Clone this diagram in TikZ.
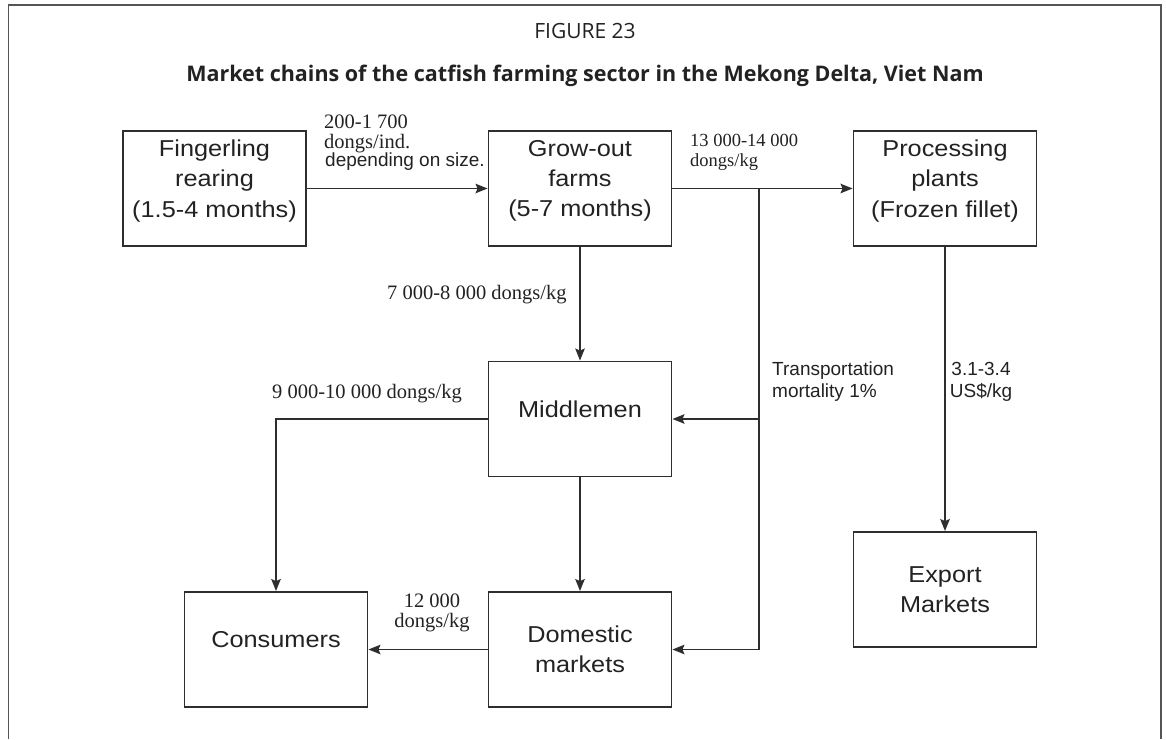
\documentclass[tikz,border=0pt]{standalone}
\usepackage{fontspec}
\setmainfont{Liberation Sans}
\newfontfamily\serifa{Liberation Serif}
\newfontfamily\titulo{Open Sans}
\newfontfamily\letracaja[FakeStretch=1.1]{Liberation Sans}
\usetikzlibrary{arrows.meta}

\definecolor{trazo}{HTML}{2E2E2E}
\definecolor{tinta}{HTML}{222222}
\definecolor{marcogris}{HTML}{555555}

\newcommand{\coordCadena}{
\coordinate (F) at (214.5,188.5);
\coordinate (G) at (580,188.5);
\coordinate (P) at (945,188.5);
\coordinate (M) at (580,419);
\coordinate (D) at (580,649.5);
\coordinate (C) at (276,649.5);
\coordinate (E) at (945,589.5);
\coordinate (T) at (759,188.5);
}
\tikzset{
caja/.style={draw=trazo,line width=1.9pt,minimum width=183pt,minimum height=115pt,inner sep=0pt},
textocaja/.style={font=\letracaja\fontsize{23}{30.3}\selectfont,text=tinta,align=center,inner sep=0pt},
flecha/.style={draw=trazo,line width=1.6pt,-{Stealth[length=12pt,width=9.5pt,inset=2pt]}},
precio/.style={font=\serifa\fontsize{20.5}{20}\selectfont,text=tinta,inner sep=0pt,align=left},
nota/.style={font=\fontsize{19}{22}\selectfont,text=tinta,inner sep=0pt,align=left},
marco/.style={draw=marcogris,line width=1.3pt}
}

\begin{document}
\begin{tikzpicture}[x=1pt,y=-1pt]
    \useasboundingbox (0,0) rectangle (1166,739);
    \draw[marco] (8.5,739) -- (8.5,5) -- (1161,5) -- (1161,739);

    \node[font=\titulo\fontsize{21}{24}\selectfont,text=tinta,anchor=base] (fig) at (585,38) {FIGURE 23};
    \node[font=\titulo\bfseries\fontsize{21.5}{24}\selectfont,text=tinta,anchor=base] (tit) at (585,81)
        {Market chains of the catfish farming sector in the Mekong Delta, Viet Nam};

    \coordCadena
    \node[caja,label={[textocaja,yshift=7.5pt]center:{Fingerling\\rearing\\(1.5-4 months)}}] (fing) at (F) {};
    \node[caja,label={[textocaja,yshift=7.5pt]center:{Grow-out\\farms\\(5-7 months)}}] (grow) at (G) {};
    \node[caja,label={[textocaja,yshift=7.5pt]center:{Processing\\plants\\(Frozen fillet)}}] (proc) at (P) {};
    \node[caja,label={[textocaja,yshift=10pt]center:Middlemen}] (midd) at (M) {};
    \node[caja,label={[textocaja]center:{Domestic\\markets}}] (dome) at (D) {};
    \node[caja,label={[textocaja,yshift=10pt]center:Consumers}] (cons) at (C) {};
    \node[caja,label={[textocaja]center:{Export\\Markets}}] (expo) at (E) {};

    \draw[flecha] (fing) -- (grow);
    \draw[flecha] (grow) -- (proc);
    \draw[flecha] (grow) -- (midd);
    \draw[flecha] (T) |- (dome.east);
    \draw[flecha] (T |- midd.east) -- (midd.east);
    \draw[flecha] (midd.west) -| (cons.north);
    \draw[flecha] (midd) -- (dome);
    \draw[flecha] (dome) -- (cons);
    \draw[flecha] (proc) -- (expo);

    % precios y notas
    \node[precio,anchor=north west] (pFG) at (324,114.5) {200-1 700\\dongs/ind.};
    \node[nota,anchor=base west] (pFGn) at (325,166.7) {depending on size.};
    \node[precio,font=\serifa\fontsize{18.5}{19.5}\selectfont,anchor=north west] (pGP) at (690,134) {13 000-14 000\\dongs/kg};
    \node[precio,anchor=base west] (pGM) at (387,299) {7 000-8 000 dongs/kg};
    \node[precio,anchor=base west] (pMC) at (272,398) {9 000-10 000 dongs/kg};
    \node[nota,anchor=north west] (nTr) at (772,362) {Transportation\\mortality 1\%};
    \node[nota,align=center,anchor=north] (pPE) at (981,362) {3.1-3.4\\US\$/kg};
    \node[precio,align=center,anchor=north] (pDC) at (432,594) {12 000\\dongs/kg};
\end{tikzpicture}
\end{document}
